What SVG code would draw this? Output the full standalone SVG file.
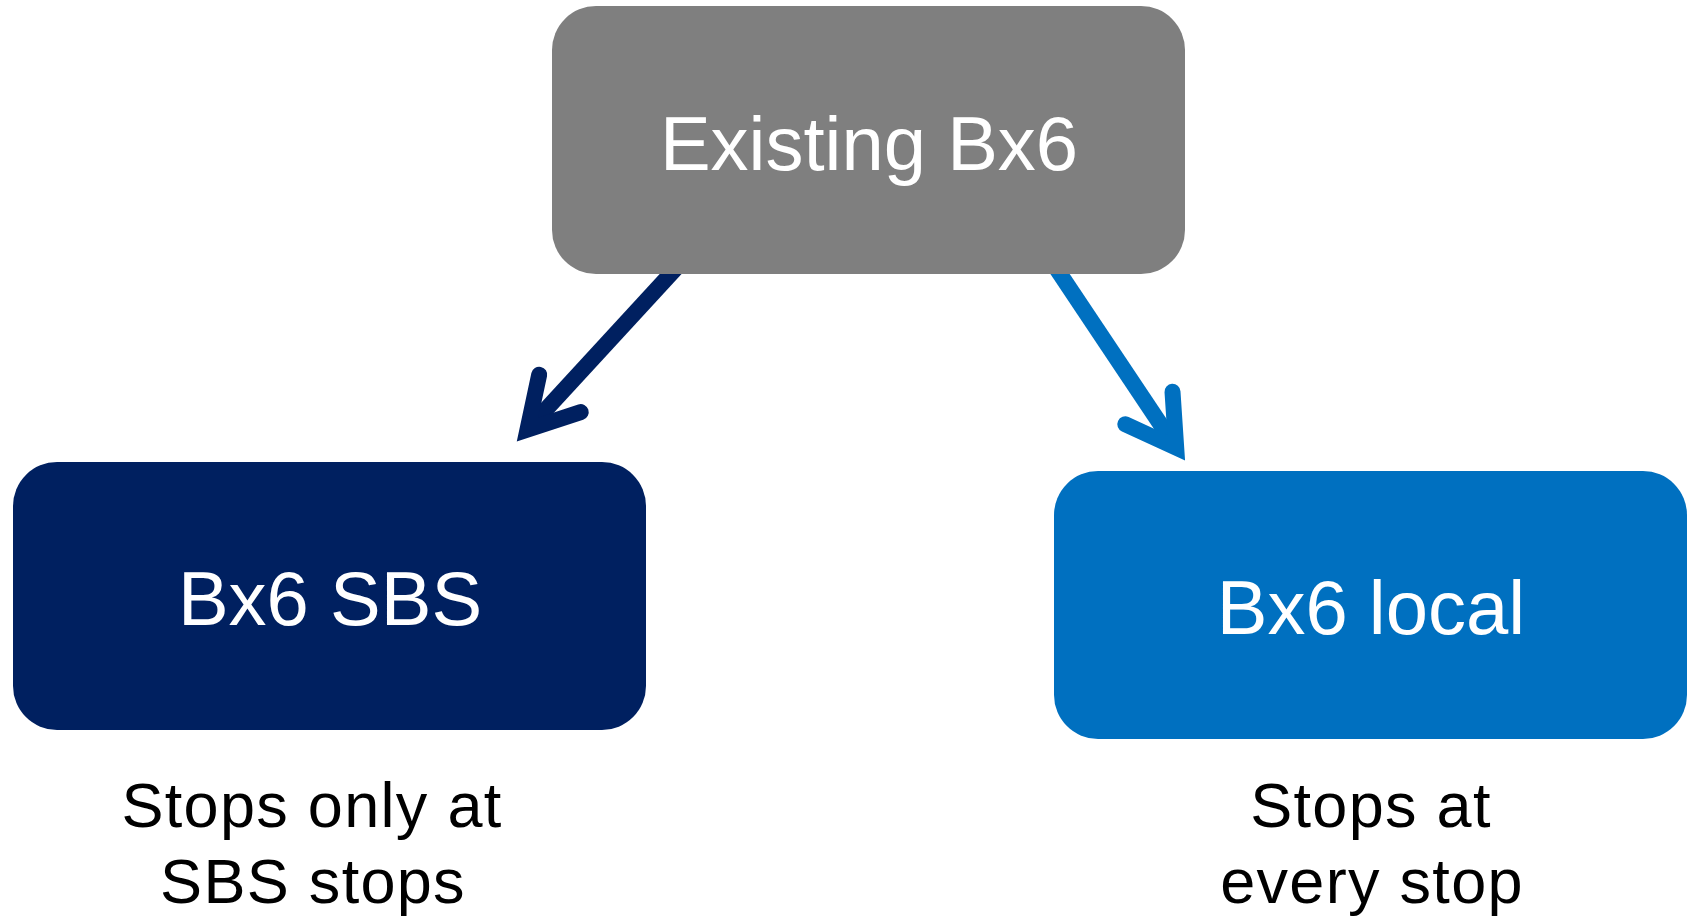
<svg xmlns="http://www.w3.org/2000/svg" width="1692" height="917" viewBox="0 0 1692 917">
<style>
.lbl{font-family:"Liberation Sans",Arial,Helvetica,sans-serif;font-size:76px;fill:#ffffff;text-anchor:middle}
.cap{font-family:"Liberation Sans",Arial,Helvetica,sans-serif;font-size:63px;fill:#000000;text-anchor:middle;letter-spacing:1.3px}
.shaft{fill:none;stroke-width:16;stroke-linecap:butt}
.head{fill:none;stroke-width:16;stroke-linecap:round;stroke-linejoin:miter;stroke-miterlimit:10}
</style>
<rect x="0" y="0" width="1692" height="917" fill="#ffffff"/>
<g id="connectors">
  <g id="edge-existing-sbs">
    <path class="shaft" d="M683.5,260 L527.5,429.5" stroke="#002060"/>
    <path class="head" d="M539.2,374.7 L527.5,429.5 L580.7,412.1" stroke="#002060"/>
  </g>
  <g id="edge-existing-local">
    <path class="shaft" d="M1050.7,260 L1176.2,447.7" stroke="#0070C0"/>
    <path class="head" d="M1125.3,424.3 L1176.2,447.7 L1172.5,391.8" stroke="#0070C0"/>
  </g>
</g>
<g id="node-existing">
  <rect x="552" y="6" width="633" height="268" rx="44" ry="44" fill="#7F7F7F"/>
  <text class="lbl" x="869" y="169.5">Existing Bx6</text>
</g>
<g id="node-sbs">
  <rect x="13" y="462" width="633" height="268" rx="44" ry="44" fill="#002060"/>
  <text class="lbl" x="330" y="624.5">Bx6 SBS</text>
</g>
<g id="node-local">
  <rect x="1054" y="471" width="633" height="268" rx="44" ry="44" fill="#0070C0"/>
  <text class="lbl" x="1371" y="633.5">Bx6 local</text>
</g>
<g id="caption-sbs">
  <text class="cap" x="312" y="826.7">Stops only at</text>
  <text class="cap" x="313" y="903.3">SBS stops</text>
</g>
<g id="caption-local">
  <text class="cap" x="1371" y="826.7">Stops at</text>
  <text class="cap" x="1372" y="903.3">every stop</text>
</g>
</svg>
